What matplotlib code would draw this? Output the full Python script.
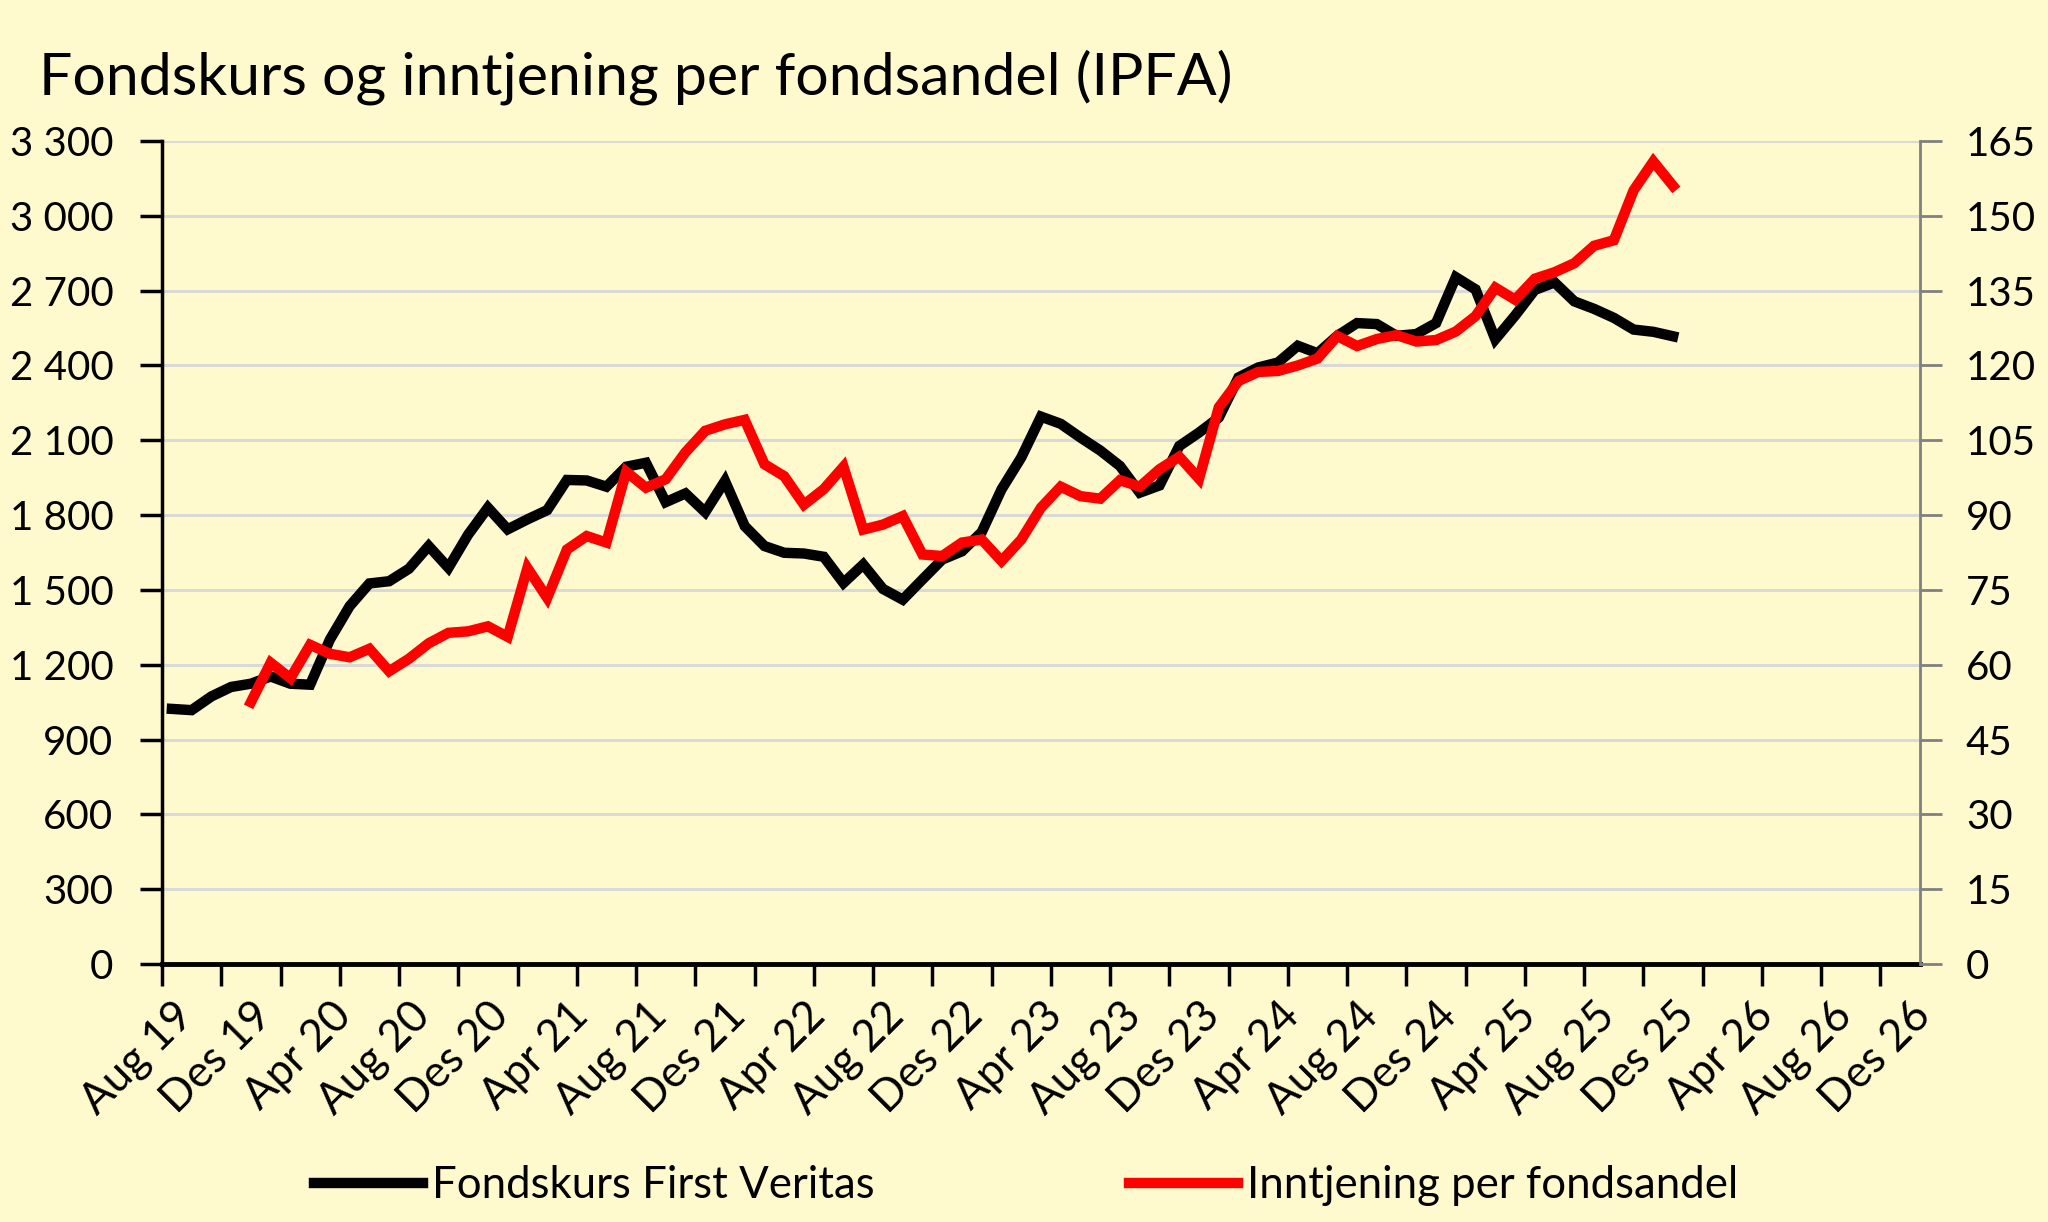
import numpy as np
import matplotlib
matplotlib.use("Agg")
import matplotlib.pyplot as plt
from matplotlib.ticker import FuncFormatter

plt.rcParams['font.family'] = ['Lato', 'DejaVu Sans']

# monthly categories Aug 19 .. Des 26
mnd = ["Jan", "Feb", "Mar", "Apr", "Mai", "Jun", "Jul", "Aug", "Sep", "Okt", "Nov", "Des"]
months = []
for k in range(89):
    m = (7 + k) % 12
    y = 19 + (7 + k) // 12
    months.append("{} {}".format(mnd[m], y))

# Fondskurs First Veritas, Aug 19 .. Des 25 (left axis)
kurs = [1023, 1018, 1073, 1111, 1124, 1153, 1124, 1120, 1301, 1435,
        1526, 1535, 1585, 1676, 1589, 1722, 1830, 1743, 1783, 1820,
        1941, 1939, 1914, 1994, 2010, 1852, 1887, 1812, 1937, 1756,
        1676, 1649, 1646, 1633, 1528, 1602, 1504, 1461, 1542, 1622,
        1655, 1732, 1903, 2031, 2195, 2166, 2111, 2059, 1997, 1890,
        1919, 2077, 2131, 2191, 2352, 2392, 2412, 2479, 2449, 2519,
        2570, 2566, 2519, 2526, 2570, 2754, 2705, 2505, 2600, 2703,
        2733, 2657, 2627, 2591, 2544, 2535, 2517]

# Inntjening per fondsandel, Des 19 .. Des 25 (right axis)
ipfa_start = 4
ipfa = [52.5, 60.4, 57.3, 64.0, 62.2, 61.5, 63.2, 58.7, 61.2, 64.3,
        66.4, 66.7, 67.7, 65.6, 79.4, 73.4, 83.1, 85.8, 84.5, 98.7,
        95.5, 97.2, 102.6, 106.9, 108.2, 109.1, 100.2, 97.8, 92.1, 95.2,
        99.7, 87.1, 88.1, 89.8, 82.1, 81.8, 84.5, 85.1, 80.8, 85.1,
        91.5, 95.7, 93.8, 93.3, 97.0, 95.7, 99.2, 101.7, 97.3, 111.6,
        116.9, 118.7, 118.9, 120.0, 121.4, 125.9, 123.9, 125.3, 126.1, 124.8,
        125.1, 126.8, 129.9, 135.6, 133.2, 137.4, 138.7, 140.5, 144.0, 145.1,
        155.1, 160.9, 156.0]

bg = "#fffacd"
fig = plt.figure(figsize=(20.48, 12.22), dpi=100, facecolor=bg)
ax = fig.add_axes([0.0791, 0.2111, 0.8584, 0.6735])
ax.set_facecolor(bg)
ax2 = ax.twinx()

x_k = np.arange(len(kurs))
x_i = np.arange(ipfa_start, ipfa_start + len(ipfa))

ax.plot(x_k, kurs, color="black", lw=7.5, solid_joinstyle="miter", zorder=3,
        label="Fondskurs First Veritas")
ax2.plot(x_i, ipfa, color="#ff0000", lw=7.5, solid_joinstyle="miter", zorder=3,
         label="Inntjening per fondsandel")

ax.set_xlim(-0.5, len(months) - 0.5)
ax.set_ylim(0, 3300)
ax2.set_ylim(0, 165)
ax.set_yticks(np.arange(0, 3301, 300))
ax2.set_yticks(np.arange(0, 166, 15))
ax.yaxis.set_major_formatter(FuncFormatter(lambda v, p: "{:,.0f}".format(v).replace(",", " ")))
ax.grid(axis="y", color="#d9d9d9", lw=2.2, zorder=0)
ax.set_axisbelow(True)

# labels every 4 months, tick marks every 3 months between categories
lab_pos = np.arange(0, len(months), 4)
ax.set_xticks(lab_pos)
ax.set_xticklabels([months[i] for i in lab_pos], rotation=45, ha="right",
                   rotation_mode="anchor", fontsize=31.5)
ax.set_xticks(np.arange(-0.5, len(months) - 1, 3), minor=True)
ax.tick_params(axis="x", which="major", length=0, pad=22)
ax.tick_params(axis="x", which="minor", length=16, width=2.5, color="black")
ax.tick_params(axis="y", which="major", length=16, width=2.5, labelsize=29, pad=19)
ax2.tick_params(axis="y", which="major", length=16, width=2, color="#808080",
                labelsize=29, pad=17)

for a in (ax, ax2):
    a.spines["top"].set_visible(False)
ax.spines["left"].set_linewidth(2.5)
ax.spines["bottom"].set_linewidth(3.5)
ax.spines["right"].set_visible(False)
ax2.spines["left"].set_visible(False)
ax2.spines["bottom"].set_visible(False)
ax2.spines["right"].set_color("#808080")
ax2.spines["right"].set_linewidth(2)

fig.text(0.019, 0.923, "Fondskurs og inntjening per fondsandel (IPFA)",
         fontsize=42.5, va="baseline", ha="left")

h1, l1 = ax.get_legend_handles_labels()
h2, l2 = ax2.get_legend_handles_labels()
fig.legend(h1 + h2, l1 + l2, loc="center", bbox_to_anchor=(0.501, 0.03), ncol=2,
           frameon=False, fontsize=31.5, handlelength=2.5, handletextpad=0.2,
           columnspacing=5.8)

fig.savefig("out.png", dpi=100, facecolor=bg)
